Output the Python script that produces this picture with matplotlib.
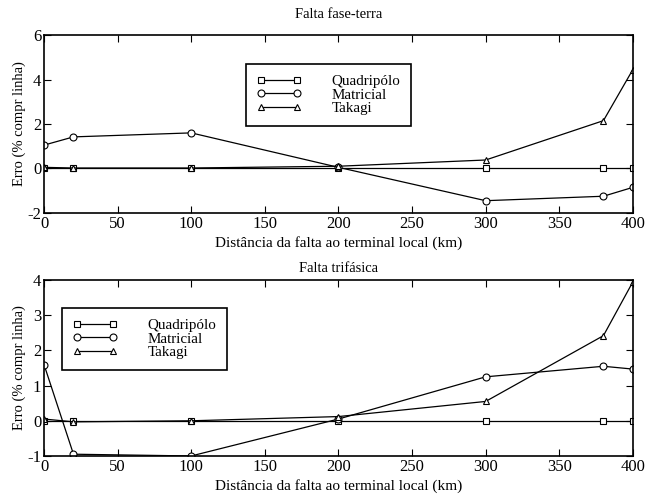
# Erro de localizacao de faltas: fase-terra e trifasica

import numpy as np
import matplotlib.pyplot as plt

plt.rcParams['font.family'] = 'Liberation Serif'
plt.rcParams['font.size'] = 10
plt.rcParams['axes.unicode_minus'] = False

dist = [0, 20, 100, 200, 300, 380, 400]

# falta fase-terra
ft_quad = [0, 0, 0, 0, 0, 0, 0]
ft_matr = [1.05, 1.42, 1.6, 0.05, -1.45, -1.25, -0.85]
ft_taka = [0.05, 0.02, 0.02, 0.1, 0.38, 2.15, 4.45]

# falta trifasica
tf_quad = [0, 0, 0, 0, 0, 0, 0]
tf_matr = [1.6, -0.95, -1.0, 0.05, 1.25, 1.55, 1.47]
tf_taka = [0.05, -0.03, 0.0, 0.12, 0.55, 2.42, 3.95]

labels = ['Quadripólo', 'Matricial', 'Takagi']
markers = ['s', 'o', '^']

fig = plt.figure(figsize=(6.55, 4.94), dpi=100)
ax1 = fig.add_axes([0.0672, 0.569, 0.899, 0.360])
ax2 = fig.add_axes([0.0672, 0.077, 0.899, 0.356])

def draw(ax, series, title, tpad, ylim, yticks, legloc):
    for y, m, lab in zip(series, markers, labels):
        ax.plot(dist, y, '-', color='k', lw=0.9, marker=m, ms=5,
                mfc='white', mec='k', mew=0.8, label=lab)
    ax.set_xlim(0, 400)
    ax.set_ylim(*ylim)
    ax.set_xticks(np.arange(0, 401, 50))
    ax.set_yticks(yticks)
    ax.tick_params(direction='in', top=True, right=True, length=5, pad=2,
                   labelsize=12)
    for s in ax.spines.values():
        s.set_linewidth(1.2)
    ax.set_title(title, fontsize=10.5, pad=tpad)
    ax.set_xlabel('Distância da falta ao terminal local (km)', fontsize=11,
                  labelpad=3)
    ax.set_ylabel('Erro (% compr linha)', fontsize=10.5, labelpad=1)
    leg = ax.legend(loc='upper left', bbox_to_anchor=legloc, fancybox=False,
                    edgecolor='k', framealpha=1, numpoints=2,
                    handlelength=3.0, borderpad=0.7, labelspacing=0.0,
                    handletextpad=2.0, borderaxespad=0, fontsize=10.8)
    leg.get_frame().set_linewidth(1.2)

draw(ax1, [ft_quad, ft_matr, ft_taka], 'Falta fase-terra', 12, (-2, 6),
     [-2, 0, 2, 4, 6], (0.343, 0.837))
draw(ax2, [tf_quad, tf_matr, tf_taka], 'Falta trifásica', 6, (-1, 4),
     [-1, 0, 1, 2, 3, 4], (0.031, 0.841))

fig.savefig('out.png', dpi=100)
